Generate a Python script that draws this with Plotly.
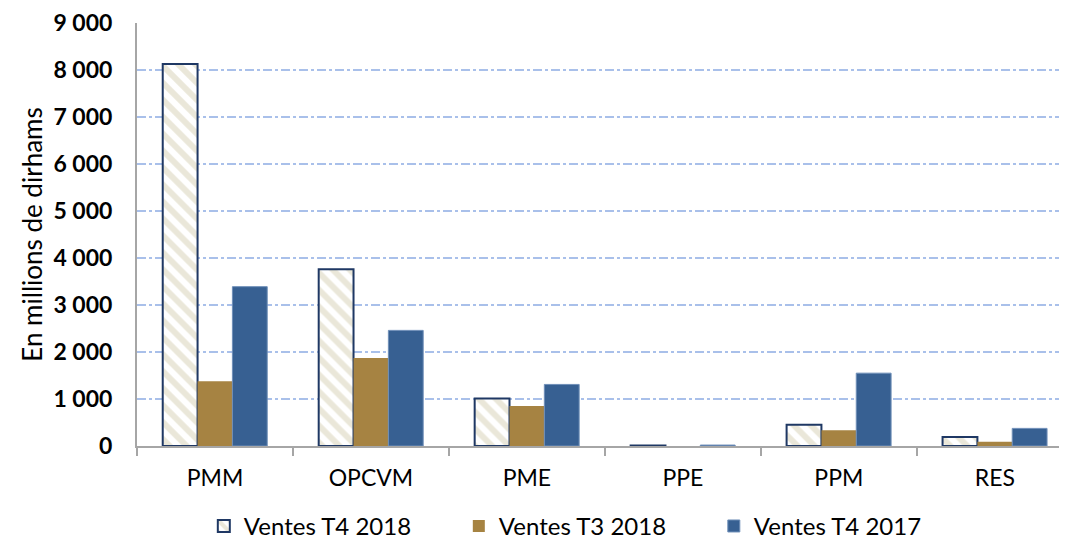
import plotly.graph_objects as go

categories = ["PMM", "OPCVM", "PME", "PPE", "PPM", "RES"]
ventes_t4_2018 = [8130, 3760, 1010, 10, 450, 190]
ventes_t3_2018 = [1380, 1870, 850, 0, 335, 90]
ventes_t4_2017 = [3390, 2460, 1310, 20, 1550, 375]

y_ticks = [0, 1000, 2000, 3000, 4000, 5000, 6000, 7000, 8000, 9000]

fig = go.Figure()
fig.add_trace(go.Bar(
    x=categories, y=ventes_t4_2018, name="Ventes T4 2018",
    marker=dict(color="white", line=dict(color="#1f3864", width=2),
                pattern=dict(shape="\\", fgcolor="#d6cfb3", bgcolor="white",
                             size=12, solidity=0.5)),
))
fig.add_trace(go.Bar(
    x=categories, y=ventes_t3_2018, name="Ventes T3 2018",
    marker=dict(color="#a68342", line=dict(width=0)),
))
fig.add_trace(go.Bar(
    x=categories, y=ventes_t4_2017, name="Ventes T4 2017",
    marker=dict(color="#376092", line=dict(color="#6f8fb8", width=1)),
))

# la page ajoute un décalage de 8 px (marge du body) : on compense ici
fig.update_layout(
    width=1067, height=542,
    margin=dict(l=129, r=10, t=15, b=104, autoexpand=False),
    paper_bgcolor="white", plot_bgcolor="white",
    barmode="group", bargap=0.33, bargroupgap=0,
    separators=", ",
    font=dict(family="Lato", size=20, color="black"),
    legend=dict(orientation="h", x=0.072, xanchor="left", y=-0.19, yanchor="middle",
                entrywidth=210, entrywidthmode="pixels", itemwidth=30,
                font=dict(family="Lato", size=24, color="black")),
)
fig.update_xaxes(
    range=[-0.5, 5.45], showline=True, linecolor="#a6a6a6", linewidth=2,
    ticks="outside", tickson="boundaries", ticklen=8, tickcolor="#a6a6a6", tickwidth=2,
    tickfont=dict(family="Lato", size=23, color="black"), showgrid=False,
    ticklabelstandoff=10,
)
fig.update_yaxes(
    range=[0, 9000], tickvals=y_ticks, tickformat=",d",
    showline=True, linecolor="#a6a6a6", linewidth=2,
    showgrid=True, gridcolor="#a9c0ea", gridwidth=1.5, griddash="dashdot",
    zeroline=False,
    tickfont=dict(family="Lato", size=23, color="black", weight="bold"),
    ticklabelstandoff=18,
    title=dict(text="En millions de dirhams", font=dict(family="Lato", size=26, color="black"),
               standoff=3),
)

fig.write_html("out.html")
